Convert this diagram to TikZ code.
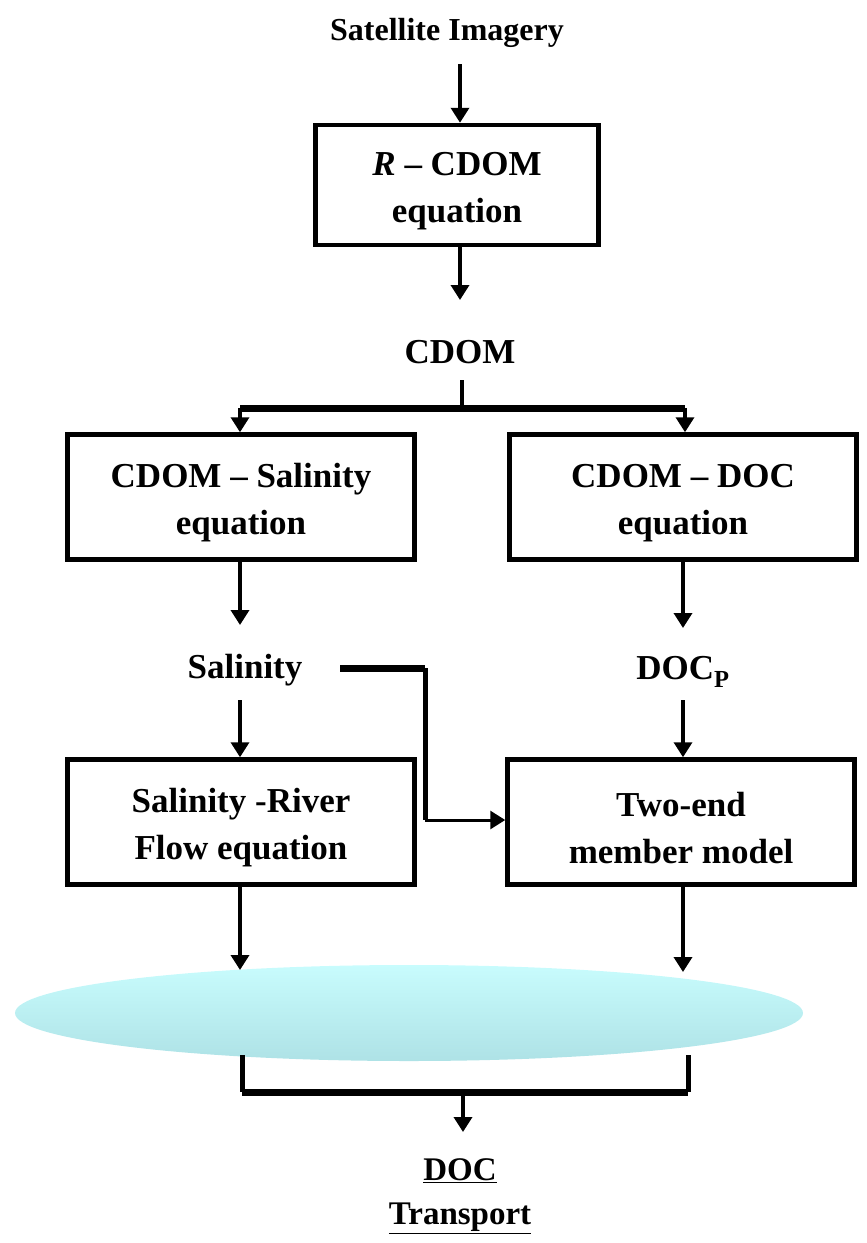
\documentclass[tikz,border=0pt]{standalone}
\usepackage{fontspec}
\setmainfont{Liberation Serif}
\usetikzlibrary{shapes.geometric,arrows.meta}
\definecolor{ellTop}{HTML}{C8FCFD}
\definecolor{ellBot}{HTML}{AEE2E6}
\tikzset{
  boxnode/.style={draw=black, line width=4.5pt, minimum width=347pt, minimum height=125pt, inner sep=0pt},
  boxtext/.style={align=center, inner sep=0pt, yshift=-6pt, font=\fontsize{35}{47}\selectfont\bfseries},
  lbl/.style={align=center, inner sep=0pt, font=\fontsize{35}{42}\selectfont\bfseries},
  arr/.style={line width=3.5pt, -{Triangle[width=18pt,length=15pt]}},
  bar/.style={line width=7pt},
  thin/.style={line width=3.5pt},
}
\begin{document}
\begin{tikzpicture}[x=1pt,y=-1pt]
\useasboundingbox (0,0) rectangle (867,1243);
% ellipse
\node[ellipse, minimum width=788pt, minimum height=96pt, inner sep=0pt, top color=ellTop, bottom color=ellBot] (ell) at (409,1013) {};
% nodes
\node[lbl, font=\fontsize{32}{38}\selectfont\bfseries] (sat) at (447,33) {Satellite Imagery};
\node[boxnode, minimum width=283pt, minimum height=120pt] (rcdom) at (457,185) {};
\node[boxtext] (rcdomt) at (rcdom) {\textit{R} -- CDOM\\equation};
\node[lbl] (cdom) at (460,352) {CDOM};
\node[boxnode] (cs) at (241,497) {};
\node[boxtext] (cst) at (cs) {CDOM -- Salinity\\equation};
\node[boxnode] (cd) at (683,497) {};
\node[boxtext] (cdt) at (cd) {CDOM -- DOC\\equation};
\node[lbl] (sal) at (245,670) {Salinity};
\node[lbl] (docp) at (683,672) {DOC\textsubscript{P}};
\node[boxnode] (srf) at (241,822) {};
\node[boxtext] (srft) at (srf) {Salinity -River\\Flow equation};
\node[boxnode] (tem) at (681,822) {};
\node[boxtext] (temt) at (tem) {Two-end\\member model};
\node[lbl, font=\fontsize{33}{44}\selectfont\bfseries] (doct) at (460,1196) {\underline{DOC}\\\underline{Transport}};
% coordinates
\coordinate (satb) at (460,64);
\coordinate (rcb) at (460,300);
\coordinate (cdomb) at (462,380);
\coordinate (cdbar) at (462,408);
\coordinate (bl) at (240,408);
\coordinate (br) at (685,408);
\coordinate (csb) at (240,625);
\coordinate (cdb) at (683,628);
\coordinate (salb) at (240,700);
\coordinate (docb) at (683,700);
\coordinate (s1) at (340,668);
\coordinate (s2) at (425,668);
\coordinate (s3) at (425,820);
\coordinate (eL) at (240,970);
\coordinate (eR) at (683,972);
\coordinate (eLb) at (242,1055);
\coordinate (eRb) at (688,1055);
\coordinate (bbl) at (242,1092);
\coordinate (bbr) at (688,1092);
\coordinate (bbm) at (463,1092);
\coordinate (out) at (463,1132);
% connectors
\draw[arr] (satb) -- (satb |- rcdom.north);
\draw[arr] (rcdom.south -| rcb) -- (rcb);
\draw[thin] (cdomb) -- (cdbar);
\draw[bar] (bl) -- (br);
\draw[arr] (bl) -- (bl |- cs.north);
\draw[arr] (br) -- (br |- cd.north);
\draw[arr] (cs.south -| csb) -- (csb);
\draw[arr] (cd.south -| cdb) -- (cdb);
\draw[arr] (salb) -- (salb |- srf.north);
\draw[arr] (docb) -- (docb |- tem.north);
\draw[bar] (s1) -- (s2);
\draw[line width=5pt] (s2) -- (s3);
\draw[line width=3pt, -{Triangle[width=18pt,length=15pt]}] (s3) -- (s3 -| tem.west);
\draw[arr] (srf.south -| eL) -- (eL);
\draw[arr] (tem.south -| eR) -- (eR);
\draw[line width=5pt] (eLb) -- (bbl);
\draw[line width=5pt] (eRb) -- (bbr);
\draw[bar] (bbl) -- (bbr);
\draw[arr] (bbm) -- (out);
\end{tikzpicture}
\end{document}
